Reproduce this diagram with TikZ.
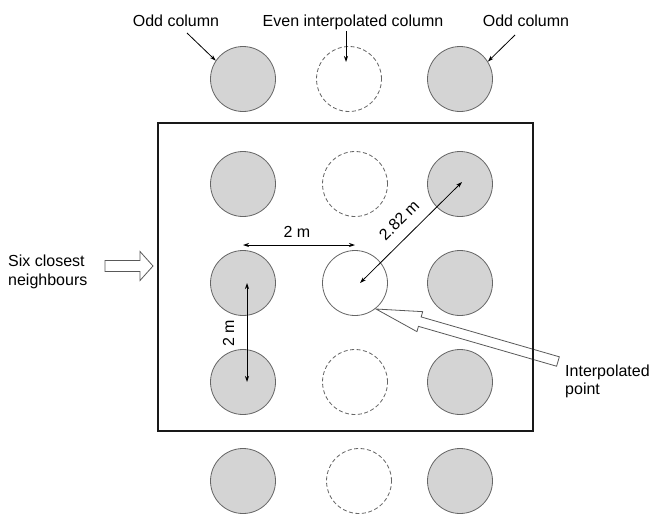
\documentclass[tikz,border=0pt]{standalone}
\usepackage{fontspec}
\setmainfont{Liberation Sans}
\usetikzlibrary{arrows.meta}
\begin{document}
\begin{tikzpicture}[x=1pt,y=-1pt,
  col/.style={circle,minimum size=65pt,inner sep=0pt,draw=black!60,line width=0.8pt},
  oddcol/.style={col,fill=black!17},
  evencol/.style={col,fill=white,dash pattern=on 4pt off 2.5pt},
  interp/.style={col,fill=white},
  lbl/.style={font=\fontsize{16}{19}\selectfont,inner sep=0pt},
  dim/.style={line width=0.8pt,{Stealth[length=6pt,width=4pt]}-{Stealth[length=6pt,width=4pt]}},
  ptr/.style={line width=0.8pt,-{Stealth[length=6pt,width=4pt]}},
  blockarrow/.style={draw=black!65,fill=white,line width=0.8pt},
  frame/.style={draw=black!90,line width=2.5pt,inner sep=0pt}
]
\useasboundingbox (0,0) rectangle (650,514);

% columns
\node[oddcol]  (t1) at (243,79) {};
\node[evencol] (t2) at (349,79) {};
\node[oddcol]  (t3) at (460,79) {};
\node[oddcol]  (a1) at (243,184) {};
\node[evencol] (a2) at (355,184) {};
\node[oddcol]  (a3) at (460,184) {};
\node[oddcol]  (b1) at (243,283) {};
\node[interp]  (b2) at (355,283) {};
\node[oddcol]  (b3) at (460,283) {};
\node[oddcol]  (c1) at (243,382) {};
\node[evencol] (c2) at (355,382) {};
\node[oddcol]  (c3) at (460,382) {};
\node[oddcol]  (d1) at (243,481) {};
\node[evencol] (d2) at (359,481) {};
\node[oddcol]  (d3) at (460,481) {};

% block arrows
\draw[blockarrow] (105,260.5) -- (140,260.5) -- (140,251.5) -- (153,266)
  -- (140,280.5) -- (140,271.5) -- (105,271.5) -- cycle;
\begin{scope}[shift={(376,309)},rotate=-16.1]
  \draw[blockarrow] (0,0) -- (45.6,-10.4) -- (45.6,-4.9) -- (189.4,-4.9)
    -- (189.4,4.9) -- (45.6,4.9) -- (45.6,10.4) -- cycle;
\end{scope}

% frame
\node[frame,minimum width=375pt,minimum height=308pt] (frame) at (345.5,277) {};

% labels
\node[lbl,anchor=base] (oddL) at (176,27) {Odd column};
\node[lbl,anchor=base] (even) at (353,27) {Even interpolated column};
\node[lbl,anchor=base] (oddR) at (526,27) {Odd column};
\node[lbl,anchor=base west] (six1) at (8,266) {Six closest};
\node[lbl,anchor=base west] (six2) at (8,285) {neighbours};
\node[lbl,anchor=base west] (ip1) at (565,376) {Interpolated};
\node[lbl,anchor=base west] (ip2) at (565,394) {point};

% label pointers
\coordinate (oddLtail) at (187,33);
\draw[ptr] (oddLtail) -- (t1.146);
\coordinate (evtail) at (346,31);
\coordinate (evhead) at (346,62);
\draw[ptr] (evtail) -- (evhead);
\coordinate (oddRtail) at (515,35);
\draw[ptr] (oddRtail) -- (t3.32);

% dimensions
\coordinate (h1) at (243,245);
\coordinate (h2) at (355,245);
\draw[dim] (h1) -- (h2);
\node[lbl,anchor=base] (dimh) at (297,237) {2 m};
\coordinate (v1) at (247,283);
\coordinate (v2) at (247,382);
\draw[dim] (v1) -- (v2);
\node[lbl,anchor=base,rotate=90] (dimv) at (234,333.5) {2 m};
\coordinate (g1) at (360,283);
\coordinate (g2) at (462,182);
\draw[dim] (g1) -- (g2);
\node[lbl,anchor=base,rotate=45] (dimd) at (403,224) {2.82 m};
\end{tikzpicture}
\end{document}
